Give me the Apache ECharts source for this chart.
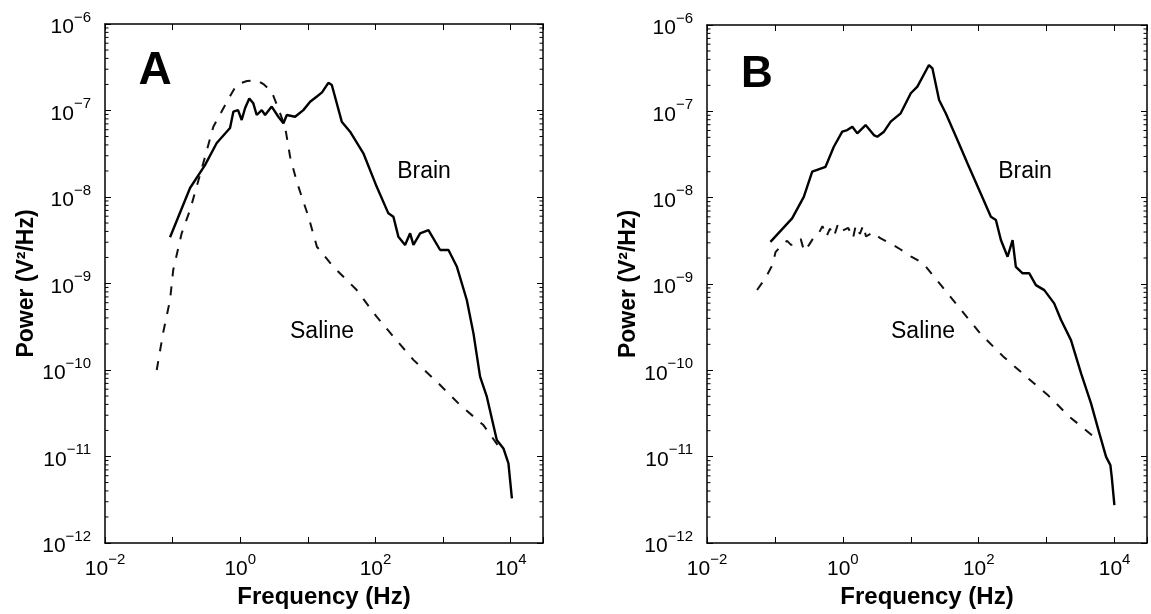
<!DOCTYPE html>
<html>
<head>
<meta charset="utf-8">
<script src="https://cdn.jsdelivr.net/npm/echarts@6/dist/echarts.min.js"></script>
<style>
html,body{margin:0;padding:0;background:#fff;}
#chart{width:1151px;height:614px;}
</style>
</head>
<body>
<div id="chart"></div>
<script>
// ---- data (frequency in Hz, power in V^2/Hz) ----
var brainA_freq = [0.0916,0.181,0.301,0.449,0.706,0.791,0.927,1.05,1.18,1.36,1.56,1.75,2.08,2.33,2.92,3.66,4.35,4.88,6.47,8.57,10.8,13.6,16.2,20.1,22.6,31.7,42.1,66.2,104,155,184,218,274,325,364,457,607,904,1200,1600,2240,2810,3520,4430,6220,7800,9250,10400];
var brainA_power = [3.42e-9,1.27e-8,2.34e-8,4.21e-8,6.28e-8,9.68e-8,1.01e-7,7.76e-8,1.07e-7,1.38e-7,1.21e-7,8.87e-8,1.01e-7,8.87e-8,1.11e-7,8.47e-8,7.11e-8,8.87e-8,8.47e-8,1.01e-7,1.26e-7,1.45e-7,1.62e-7,2.09e-7,1.97e-7,7.43e-8,5.69e-8,3.20e-8,1.32e-8,6.47e-9,5.92e-9,3.48e-9,2.79e-9,3.80e-9,2.79e-9,3.80e-9,4.15e-9,2.44e-9,2.44e-9,1.56e-9,6.44e-10,2.65e-10,8.38e-11,4.91e-11,1.55e-11,1.24e-11,8.34e-12,3.29e-12];

var salineA_freq = [0.0582,0.0729,0.0916,0.102,0.136,0.181,0.227,0.302,0.400,0.596,0.748,0.891,1.26,1.75,2.24,2.92,3.55,4.60,5.46,6.85,10.2,13.6,23.8,52.8,104,184,364,805,1780,3940,6970,7380];
var salineA_power = [1.00e-10,2.77e-10,6.44e-10,1.43e-9,3.80e-9,7.08e-9,1.32e-8,2.92e-8,6.50e-8,1.15e-7,1.58e-7,2.00e-7,2.19e-7,2.25e-7,2.00e-7,1.65e-7,1.12e-7,6.50e-8,2.92e-8,1.50e-8,5.92e-9,2.66e-9,1.56e-9,8.41e-10,4.13e-10,2.43e-10,1.31e-10,7.33e-11,3.94e-11,2.31e-11,1.24e-11,1.09e-11];

var brainB_freq = [0.0859,0.179,0.266,0.354,0.556,0.736,0.979,1.16,1.38,1.63,2.16,2.86,3.21,4.03,5.06,7.10,10.0,12.5,18.5,20.8,26.1,32.7,48.6,68.4,107,151,179,212,266,315,352,443,555,695,923,1290,1630,2280,3210,4500,5970,7500,8670,9080,9930];
var brainB_power = [3.08e-9,5.75e-9,1.02e-8,2.00e-8,2.28e-8,3.89e-8,5.81e-8,6.07e-8,6.64e-8,5.56e-8,6.93e-8,5.31e-8,5.08e-8,5.81e-8,7.59e-8,9.48e-8,1.62e-7,1.93e-7,3.44e-7,3.15e-7,1.35e-7,9.48e-8,4.65e-8,2.49e-8,1.12e-8,6.01e-9,5.50e-9,3.23e-9,2.07e-9,3.23e-9,1.58e-9,1.33e-9,1.33e-9,9.70e-10,8.49e-10,5.96e-10,3.82e-10,2.24e-10,9.20e-11,4.14e-11,1.86e-11,9.95e-12,7.98e-12,5.83e-12,2.74e-12];

var salineB_freq = [0.0546,0.0724,0.0918,0.102,0.126,0.151,0.174,0.200,0.240,0.269,0.316,0.380,0.437,0.501,0.575,0.646,0.741,0.851,1.00,1.20,1.41,1.55,1.78,2.00,2.19,2.82,3.55,5.01,7.08,10.0,15.1,28.2,55.0,107,229,479,1050,2190,4790,5370];
var salineB_power = [8.51e-10,1.17e-9,1.66e-9,2.34e-9,2.82e-9,3.16e-9,2.82e-9,3.16e-9,3.31e-9,2.40e-9,2.82e-9,3.55e-9,3.80e-9,4.68e-9,3.55e-9,4.37e-9,3.55e-9,5.01e-9,4.17e-9,4.47e-9,3.39e-9,4.79e-9,3.80e-9,4.79e-9,3.55e-9,3.98e-9,3.39e-9,2.95e-9,2.51e-9,2.09e-9,1.74e-9,9.55e-10,5.01e-10,2.63e-10,1.45e-10,8.71e-11,5.13e-11,2.88e-11,1.74e-11,1.48e-11];

var panelLetters = ['A', 'B'];
var curveLabels = ['Brain', 'Saline'];
var xAxisTitle = 'Frequency (Hz)';
var yAxisTitle = 'Power (V\u00B2/Hz)';
var xRange = [0.01, 30000];
var yRange = [1e-12, 1e-6];
// minor tick values for the y axis (2..9 x 10^k)
var yMinorTicks = [];
for (var k = -12; k < -6; k++) {
  for (var m = 2; m <= 9; m++) yMinorTicks.push([1, m * Math.pow(10, k)]);
}

function zip(a, b) { return a.map(function (v, i) { return [v, b[i]]; }); }

var FONT = '"Liberation Sans", Arial, Helvetica, sans-serif';

function expOf(v) { return Math.log10(v); }
function supLabel(onlyEven) {
  return function (v) {
    var e = expOf(v);
    var r = Math.round(e);
    if (Math.abs(e - r) > 1e-6) return '';
    if (onlyEven && (r % 2 !== 0)) return '';
    return '{b|10}{s|' + (r < 0 ? '\u2212' : '') + Math.abs(r) + '}';
  };
}
var richSup = {
  b: { fontSize: 21, fontFamily: FONT, color: '#000', verticalAlign: 'bottom', lineHeight: 28 },
  s: { fontSize: 15, fontFamily: FONT, color: '#000', verticalAlign: 'top', lineHeight: 28 }
};

var grids = [
  { left: 105, top: 24, width: 438, height: 519 },
  { left: 707, top: 25, width: 440, height: 518 }
];

var xAxes = [], yAxes = [];
grids.forEach(function (g, gi) {
  var common = {
    type: 'log', logBase: 10, gridIndex: gi,
    axisLine: { show: true, onZero: false, lineStyle: { color: '#000', width: 1.5 } },
    axisTick: { show: true, inside: true, length: 6, lineStyle: { color: '#000', width: 1 } },
    splitLine: { show: false },
    minorTick: { show: false }
  };
  xAxes.push(Object.assign({}, common, {
    min: xRange[0], max: xRange[1], position: 'bottom',
    axisLabel: { formatter: supLabel(true), rich: richSup, margin: 9, showMinLabel: true, showMaxLabel: true, hideOverlap: false },
    name: xAxisTitle, nameLocation: 'middle', nameGap: 42,
    nameTextStyle: { fontFamily: FONT, fontWeight: 'bold', fontSize: 24, color: '#000', verticalAlign: 'top' }
  }));
  xAxes.push(Object.assign({}, common, {
    min: xRange[0], max: xRange[1], position: 'top',
    axisLabel: { show: false }
  }));
  yAxes.push(Object.assign({}, common, {
    min: yRange[0], max: yRange[1], position: 'left',
    axisLabel: { formatter: supLabel(false), rich: richSup, margin: 14, showMinLabel: true, showMaxLabel: true, hideOverlap: false },
    name: yAxisTitle, nameLocation: 'middle', nameGap: 66,
    nameTextStyle: { fontFamily: FONT, fontWeight: 'bold', fontSize: 23, color: '#000' }
  }));
  yAxes.push(Object.assign({}, common, {
    min: yRange[0], max: yRange[1], position: 'right',
    axisLabel: { show: false }
  }));
});

function lineSeries(gi, freq, power, dashed) {
  return {
    type: 'line', xAxisIndex: gi * 2, yAxisIndex: gi * 2,
    data: zip(freq, power), showSymbol: false, symbol: 'none', smooth: false,
    lineStyle: dashed ? { color: '#111', width: 2, type: [9, 10] } : { color: '#000', width: 2.4 },
    silent: true, animation: false
  };
}
function minorTickSeries(gi) {
  return {
    type: 'custom', xAxisIndex: gi * 2, yAxisIndex: gi * 2, silent: true, clip: false,
    data: yMinorTicks, encode: { x: 0, y: 1 },
    renderItem: function (params, api) {
      var cs = params.coordSys;
      var y = api.coord([api.value(0), api.value(1)])[1];
      var st = { stroke: '#000', lineWidth: 1 };
      return { type: 'group', children: [
        { type: 'line', shape: { x1: cs.x, y1: y, x2: cs.x + 3.5, y2: y }, style: st },
        { type: 'line', shape: { x1: cs.x + cs.width - 3.5, y1: y, x2: cs.x + cs.width, y2: y }, style: st }
      ]};
    }
  };
}

function txt(x, y, s, size, bold) {
  return { type: 'text', x: x, y: y, silent: true,
    style: { text: s, align: 'center', verticalAlign: 'middle', fill: '#000',
      font: (bold ? 'bold ' : '') + size + 'px ' + FONT } };
}

var option = {
  animation: false,
  backgroundColor: '#fff',
  grid: grids,
  xAxis: xAxes,
  yAxis: yAxes,
  series: [
    lineSeries(0, salineA_freq, salineA_power, true),
    lineSeries(0, brainA_freq, brainA_power, false),
    lineSeries(1, salineB_freq, salineB_power, true),
    lineSeries(1, brainB_freq, brainB_power, false),
    minorTickSeries(0),
    minorTickSeries(1)
  ],
  graphic: [
    txt(155, 71, panelLetters[0], 46, true),
    txt(757, 75, panelLetters[1], 44, true),
    txt(424, 172, curveLabels[0], 23, false),
    txt(322, 332, curveLabels[1], 23, false),
    txt(1025, 172, curveLabels[0], 23, false),
    txt(923, 332, curveLabels[1], 23, false)
  ]
};

var chart = echarts.init(document.getElementById('chart'), null, { renderer: 'canvas' });
chart.setOption(option);
</script>
</body>
</html>
